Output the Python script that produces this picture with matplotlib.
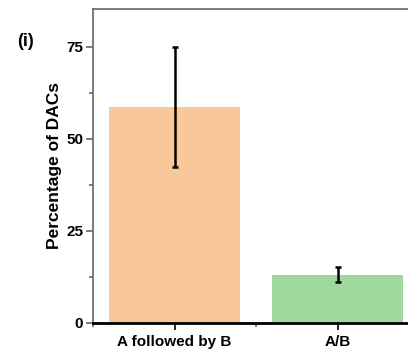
import matplotlib
matplotlib.use("Agg")
import matplotlib.pyplot as plt
from matplotlib.ticker import MultipleLocator

categories = ["A followed by B", "A/B"]
values = [58.6, 13.1]
errors = [16.3, 2.0]
colors = ["#F9C89A", "#A0D89E"]
yticks = [0, 25, 50, 75]

plt.rcParams['font.family'] = ['Liberation Sans', 'DejaVu Sans']
plt.rcParams['font.weight'] = 'bold'

fig = plt.figure(figsize=(4.08, 3.53), dpi=100)
ax = fig.add_axes([93/408, 30/353, 326/408, 314/353])

x = list(range(len(categories)))
ax.bar(x, values, width=0.8, color=colors)
ax.errorbar(x, values, yerr=errors, fmt='none', ecolor='black', elinewidth=1.8,
            capsize=2, capthick=1.8)

ax.set_xlim(-0.5, 1.5)
ax.set_ylim(0, 85.3)
ax.set_yticks(yticks)
ax.yaxis.set_minor_locator(MultipleLocator(12.5))
ax.set_yticklabels([str(t) for t in yticks], fontsize=11, fontweight='bold')
ax.set_xticks(x)
ax.set_xticklabels(categories, fontsize=11, fontweight='bold')
ax.xaxis.set_minor_locator(MultipleLocator(0.5))
ax.set_ylabel("Percentage of DACs", fontsize=12.5, fontweight='bold')
ax.yaxis.set_label_coords(-0.095, 0.5)

for s in ['left', 'top']:
    ax.spines[s].set_color('#666666')
    ax.spines[s].set_linewidth(1.2)
ax.spines['right'].set_visible(False)
ax.spines['bottom'].set_color('black')
ax.spines['bottom'].set_linewidth(2)

ax.tick_params(axis='y', which='major', length=5, width=1.2, color='#666666', pad=2)
ax.tick_params(axis='y', which='minor', length=3, width=1.2, color='#666666')
ax.tick_params(axis='x', which='major', length=5, width=1.2, color='black')
ax.tick_params(axis='x', which='minor', length=3, width=1.2, color='#666666')

fig.text(17/408, 1 - 46/353, "(i)", fontsize=13, fontweight='bold')

fig.savefig("out.png", dpi=100)
